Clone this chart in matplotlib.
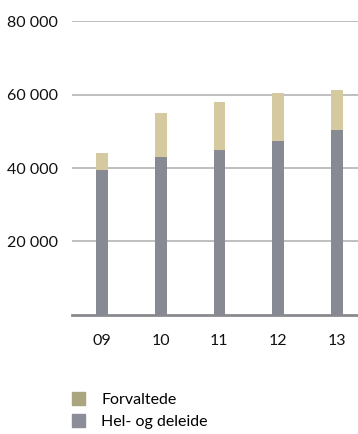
import matplotlib.pyplot as plt
from matplotlib.patches import Patch

years = ['09', '10', '11', '12', '13']
hel_deleide = [39500, 43000, 45000, 47300, 50300]
forvaltede = [4500, 12000, 13000, 13100, 10900]
yticks = [20000, 40000, 60000, 80000]

c_hel = '#878a92'
c_forv = '#d5c9a0'
c_forv_legend = '#a9a67f'
c_hel_legend = '#8b8e98'

plt.rcParams['font.family'] = ['Lato', 'DejaVu Sans']

fig = plt.figure(figsize=(3.58, 4.34), dpi=100)
ax = fig.add_axes([0.2011, 0.2742, 0.7989, 0.6774])

x = range(len(years))
ax.bar(x, hel_deleide, width=0.2, color=c_hel, zorder=3)
ax.bar(x, forvaltede, width=0.2, bottom=hel_deleide, color=c_forv, zorder=3)

ax.set_xlim(-0.51, 4.36)
ax.set_ylim(0, 80000)
ax.set_yticks(yticks)
ax.set_yticklabels([f'{v:,}'.replace(',', ' ') for v in yticks])
ax.set_xticks(list(x))
ax.set_xticklabels(years)

for v in yticks:
    ax.axhline(v, color='#b4b4b8', lw=1.2, zorder=1)

for s in ['top', 'right', 'left']:
    ax.spines[s].set_visible(False)
ax.spines['bottom'].set_color('#8a8a8e')
ax.spines['bottom'].set_linewidth(2)
ax.tick_params(axis='both', length=0, labelsize=11.5, colors='#111111')
ax.tick_params(axis='y', pad=10)
ax.tick_params(axis='x', pad=14)

handles = [Patch(color=c_forv_legend, label='Forvaltede'),
           Patch(color=c_hel_legend, label='Hel- og deleide')]
fig.legend(handles=handles, loc='upper left', bbox_to_anchor=(0.183, 0.112),
           frameon=False, fontsize=11.5, handlelength=0.85, handleheight=0.85,
           handletextpad=1.0, labelspacing=0.45, borderaxespad=0)

fig.savefig('out.png', dpi=100)
